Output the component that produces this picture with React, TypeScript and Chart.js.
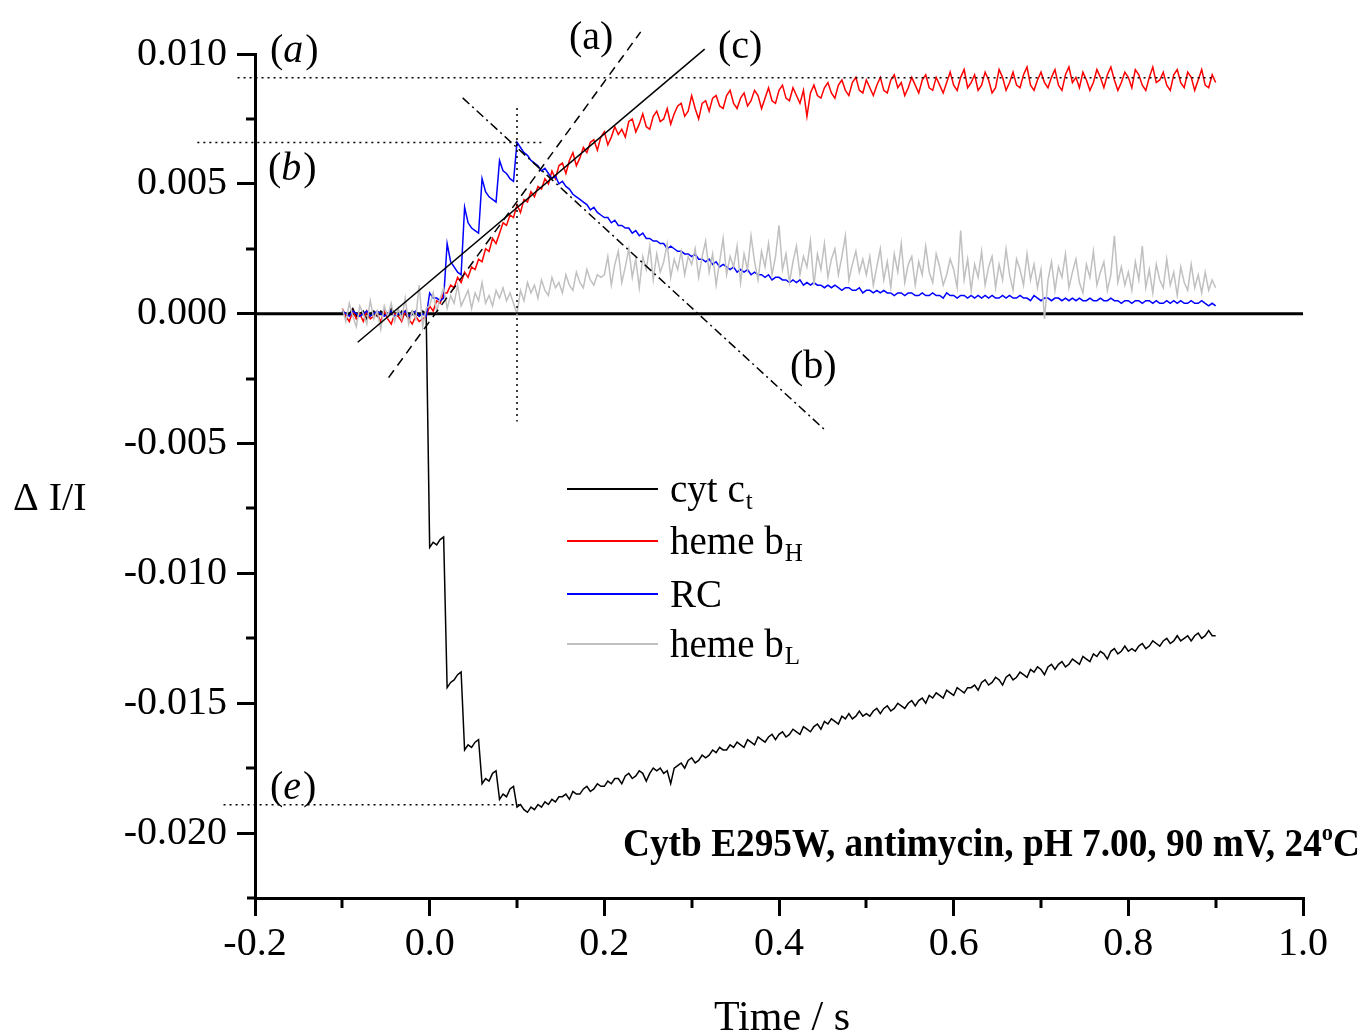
import React, { useEffect, useRef } from "react";
import { Chart, registerables } from "chart.js";

Chart.register(...registerables);

// ---- data (time grid: start + step, values in units of 1e-4 ΔI/I) ----
const T_START = -0.1;
const T_STEP = 0.004;
const Y_UNIT = 1e-4;

const cytCt = [
  1,-1,0,2,-1,0,1,-2,0,1,-1,1,0,-1,2,0,-1,1,0,-2,1,0,-1,1,0,
  -90,-88,-89,-87,-86,
  -144,-142,-141,-139,-138,
  -168,-166,-167,-165,-164,
  -181,-179,-180,-177,-176,
  -187,-185,-186,-183,-182,
  -190,-189,-191,-192,-190,-191,-189,-190,-188,-189,
  -187,-188,-186,-186,-185,-187,-184,-185,-185,-183,-182,-184,-183,-181,-182,
  -182,-180,-181,-179,-179,-181,-178,-177,-179,-178,-176,-177,-180,-177,-175,
  -176,-175,-177,-176,-181,-175,-174,-173,-175,-172,-171,-173,-172,-170,-171,
  -170,-168,-169,-167,-168,-168,-166,-167,-165,-166,-167,-164,-165,-166,-163,
  -164,-165,-163,-162,-164,-162,-161,-163,-162,-160,-161,-162,-159,-160,-161,
  -159,-158,-160,-157,-158,-156,-157,-158,-155,-156,-154,-156,-155,-153,-155,
  -154,-155,-153,-152,-154,-152,-151,-153,-152,-150,-151,-152,-150,-149,-151,
  -149,-148,-150,-147,-148,-146,-147,-148,-145,-146,-147,-144,-145,-146,-144,
  -144,-143,-145,-142,-141,-143,-142,-140,-141,-143,-140,-139,-141,-140,-138,
  -139,-140,-137,-138,-136,-137,-139,-136,-135,-137,-135,-134,-136,-135,-133,
  -134,-135,-132,-133,-134,-131,-132,-130,-131,-133,-130,-129,-131,-130,-128,
  -130,-129,-130,-128,-127,-129,-128,-126,-127,-128,-126,-125,-127,-126,-124,
  -126,-125,-124,-126,-124,-123,-125,-124,-122,-124,-124,
];

const hemeBH = [
  2,-1,-3,1,-2,0,-3,1,-2,-1,0,-3,1,-2,-4,0,-1,-3,1,-2,-4,-1,-3,-2,-1,
  3,1,5,4,8,
  8,11,10,14,12,
  16,14,18,17,21,
  20,25,24,29,27,
  31,35,34,38,37,
  42,39,44,43,47,
  45,49,48,52,50,
  55,52,57,58,54,
  59,62,57,60,64,
  62,66,67,63,68,
  70,65,68,72,69,
  71,68,74,75,70,
  73,77,72,71,76,
  78,74,75,79,73,
  77,80,81,76,78,
  84,79,75,81,82,
  78,83,84,80,79,
  84,86,81,79,83,
  85,80,82,86,84,
  79,83,87,82,81,
  86,88,83,82,87,
  84,81,86,76,85,
  88,84,83,87,89,
  85,83,88,90,86,
  84,89,91,86,85,
  90,87,84,88,91,
  86,85,90,92,87,
  89,84,87,91,88,
  85,90,92,87,86,
  91,88,85,89,93,
  88,86,91,94,87,
  89,92,86,88,93,
  90,85,87,94,91,
  86,89,93,88,87,
  92,95,88,86,90,
  93,89,87,91,94,
  88,86,92,95,89,
  91,87,93,90,86,
  89,94,91,87,92,
  95,90,86,89,93,
  91,87,94,92,88,
  86,91,95,89,90,
  93,88,86,92,94,
  89,87,93,91,86,
  90,94,88,87,92,
  89,
];

const rcTrace = [
  1,0,-1,1,0,-1,0,1,-1,0,1,0,-1,0,1,-1,0,0,1,-1,0,1,-1,0,-1,
  8,6,6,5,6,
  27,20,18,16,15,
  41,35,33,32,31,
  52,47,45,44,43,
  59,55,54,52,51,
  66,64,62,61,59,
  58,57,55,56,54,
  52,53,50,51,49,
  48,46,45,44,43,
  42,40,41,39,38,
  37,37,35,36,34,
  34,33,33,31,32,
  30,31,29,29,28,
  28,27,27,25,26,
  25,24,24,23,23,
  22,23,21,21,20,
  21,19,20,18,19,
  18,17,18,16,17,
  16,17,15,16,15,
  15,14,15,13,14,
  14,13,13,12,13,
  12,13,11,12,11,
  12,11,11,10,11,
  10,11,10,9,10,
  10,9,9,10,8,
  9,9,8,9,8,
  9,8,8,7,8,
  8,7,8,8,7,
  7,8,7,7,8,
  7,7,6,8,7,
  7,6,7,7,6,
  7,6,7,6,7,
  6,7,6,6,7,
  6,7,6,6,7,
  6,6,5,7,6,
  5,6,6,5,6,
  6,5,6,5,6,
  5,6,5,5,6,
  5,5,6,5,5,
  6,5,5,4,5,
  5,4,5,5,4,
  5,5,4,5,4,
  4,5,4,5,4,
  5,4,4,5,4,
  4,5,4,3,4,
  3,
];

const hemeBL = [
  2,-3,4,-1,-5,3,0,-4,5,-2,1,-6,3,-1,4,-3,2,-2,6,-4,1,-2,11,-5,2,
  3,8,1,6,10,2,7,4,11,3,6,9,2,8,5,12,4,7,3,9,6,10,5,8,4,
  0,
  9,5,12,8,11,6,13,9,7,14,10,12,8,15,11,9,16,12,10,17,13,11,15,14,
  15,22,11,19,24,12,18,25,14,21,10,22,17,26,13,23,16,20,27,14,21,17,24,15,22,
  19,25,14,22,28,16,23,11,20,29,15,22,18,26,12,23,17,30,20,13,24,18,27,15,22,
  34,17,23,12,20,26,15,22,18,28,11,23,17,27,14,21,25,15,22,30,13,19,24,16,21,
  15,22,11,18,25,13,20,10,23,16,27,12,19,22,11,20,15,26,16,12,23,18,11,15,21,
  17,10,32,13,21,9,19,14,24,11,18,22,10,19,13,25,15,9,21,17,11,23,13,19,10,
  17,-2,13,20,9,18,14,23,10,16,21,12,8,19,14,24,11,16,20,9,15,30,12,18,11,
  16,9,20,13,26,10,17,8,19,13,10,21,11,16,7,18,12,9,19,10,15,8,16,9,13,
  10,
];

// ---- axes ----
const xTickValues = [-0.2, 0, 0.2, 0.4, 0.6, 0.8, 1.0];
const xTickLabels = ["-0.2", "0.0", "0.2", "0.4", "0.6", "0.8", "1.0"];
const xMinorTicks = [-0.1, 0.1, 0.3, 0.5, 0.7, 0.9];
const yTickValues = [0.01, 0.005, 0, -0.005, -0.01, -0.015, -0.02];
const yTickLabels = ["0.010", "0.005", "0.000", "-0.005", "-0.010", "-0.015", "-0.020"];
const yMinorTicks = [0.0075, 0.0025, -0.0025, -0.0075, -0.0125, -0.0175];

// ---- legend ----
const seriesNames = ["cyt c", "heme b", "RC", "heme b"];
const seriesSubs = ["t", "H", "", "L"];
const seriesColors = ["#000000", "#ff0000", "#0000ff", "#c0c0c0"];

// ---- guide lines [x0, y0, x1, y1] in data units ----
const fitLineA = [-0.047, -0.00246, 0.2416, 0.01085];
const fitLineC = [-0.0824, -0.0011, 0.3149, 0.01019];
const fitLineB = [0.0378, 0.00831, 0.4546, -0.00454];
const markerT = [0.1, 0.00792, 0.1, -0.00415];
const levelA = [-0.22, 0.00909, 0.9, 0.00909];
const levelB = [-0.266, 0.00659, 0.129, 0.00659];
const levelE = [-0.236, -0.01891, 0.104, -0.01891];

const SERIF = "'Liberation Serif', 'Times New Roman', serif";

function toPoints(arr: number[]) {
  return arr.map((v, i) => ({ x: +(T_START + i * T_STEP).toFixed(4), y: v * Y_UNIT }));
}

function seg(ctx: any, xs: any, ys: any, s: number[], dash: number[], w: number) {
  ctx.save();
  ctx.setLineDash(dash);
  ctx.lineWidth = w;
  ctx.strokeStyle = "#000";
  ctx.beginPath();
  ctx.moveTo(xs.getPixelForValue(s[0]), ys.getPixelForValue(s[1]));
  ctx.lineTo(xs.getPixelForValue(s[2]), ys.getPixelForValue(s[3]));
  ctx.stroke();
  ctx.restore();
}

function parenLabel(ctx: any, letter: string, x: number, y: number, italic: boolean, size: number) {
  ctx.save();
  ctx.fillStyle = "#000";
  ctx.textBaseline = "alphabetic";
  ctx.textAlign = "left";
  const up = `${size}px ${SERIF}`;
  const it = `italic ${size}px ${SERIF}`;
  ctx.font = up;
  ctx.fillText("(", x, y);
  let cx = x + ctx.measureText("(").width;
  ctx.font = italic ? it : up;
  ctx.fillText(letter, cx, y);
  cx += ctx.measureText(letter).width + (italic ? 2 : 0);
  ctx.font = up;
  ctx.fillText(")", cx, y);
  ctx.restore();
}

const overlay = {
  id: "overlay",
  beforeDatasetsDraw(chart: any) {
    const { ctx, scales } = chart;
    const xs = scales.x, ys = scales.y;
    const y0 = ys.getPixelForValue(0);
    ctx.save();
    ctx.strokeStyle = "#000";
    ctx.lineWidth = 3;
    ctx.beginPath();
    ctx.moveTo(xs.left, y0);
    ctx.lineTo(xs.right, y0);
    ctx.stroke();
    ctx.restore();
  },
  afterDatasetsDraw(chart: any) {
    const { ctx, scales } = chart;
    const xs = scales.x, ys = scales.y;
    seg(ctx, xs, ys, fitLineA, [9, 6], 1.5);
    seg(ctx, xs, ys, fitLineC, [], 1.5);
    seg(ctx, xs, ys, fitLineB, [9, 4, 2, 4], 1.5);
    seg(ctx, xs, ys, markerT, [2, 4], 1.5);
    seg(ctx, xs, ys, levelA, [2, 4], 1.5);
    seg(ctx, xs, ys, levelB, [2, 4], 1.5);
    seg(ctx, xs, ys, levelE, [2, 4], 1.5);
  },
  afterDraw(chart: any) {
    const { ctx, scales } = chart;
    const xs = scales.x, ys = scales.y;
    ctx.save();
    ctx.strokeStyle = "#000";
    ctx.lineWidth = 3;
    for (const v of xMinorTicks) {
      const px = Math.round(xs.getPixelForValue(v));
      ctx.beginPath();
      ctx.moveTo(px, ys.bottom);
      ctx.lineTo(px, ys.bottom + 10);
      ctx.stroke();
    }
    for (const v of yMinorTicks) {
      const py = Math.round(ys.getPixelForValue(v));
      ctx.beginPath();
      ctx.moveTo(xs.left - 9, py);
      ctx.lineTo(xs.left, py);
      ctx.stroke();
    }
    ctx.beginPath();
    ctx.moveTo(xs.left - 8, ys.bottom);
    ctx.lineTo(xs.left, ys.bottom);
    ctx.stroke();
    ctx.restore();

    // axis titles
    ctx.save();
    ctx.fillStyle = "#000";
    ctx.font = `40px ${SERIF}`;
    ctx.textAlign = "left";
    ctx.textBaseline = "alphabetic";
    ctx.fillText("\u0394 I/I", 13, 510);
    ctx.font = `42px ${SERIF}`;
    ctx.textAlign = "center";
    ctx.fillText("Time / s", 782, 1030);
    ctx.restore();

    // panel labels
    parenLabel(ctx, "a", 270, 62, true, 40);
    parenLabel(ctx, "b", 268, 180, true, 40);
    parenLabel(ctx, "e", 270, 799, true, 40);
    parenLabel(ctx, "a", 569, 49, false, 40);
    parenLabel(ctx, "c", 718, 58, false, 40);
    parenLabel(ctx, "b", 790, 378, false, 40);

    // legend
    const legendY = [489, 541, 594, 644];
    ctx.save();
    for (let i = 0; i < seriesNames.length; i++) {
      ctx.strokeStyle = seriesColors[i];
      ctx.lineWidth = 2;
      ctx.beginPath();
      ctx.moveTo(567, legendY[i]);
      ctx.lineTo(658, legendY[i]);
      ctx.stroke();
      ctx.fillStyle = "#000";
      ctx.textAlign = "left";
      ctx.textBaseline = "alphabetic";
      ctx.font = `39px ${SERIF}`;
      const base = legendY[i] + 13;
      ctx.fillText(seriesNames[i], 670, base);
      if (seriesSubs[i]) {
        const w = ctx.measureText(seriesNames[i]).width;
        ctx.font = `25px ${SERIF}`;
        ctx.fillText(seriesSubs[i], 670 + w + 1, base + 7);
      }
    }
    ctx.restore();

    // condition text (bold), fitted to reference width
    ctx.save();
    ctx.fillStyle = "#000";
    ctx.textAlign = "left";
    ctx.textBaseline = "alphabetic";
    const mainTxt = "Cytb E295W, antimycin, pH 7.00, 90 mV, 24";
    ctx.font = `bold 40px ${SERIF}`;
    const w1 = ctx.measureText(mainTxt).width;
    const wC = ctx.measureText("C").width;
    ctx.font = `bold 24px ${SERIF}`;
    const wo = ctx.measureText("o").width;
    const sx = (1360 - 623) / (w1 + wo + wC);
    ctx.translate(623, 856);
    ctx.scale(sx, 1);
    ctx.font = `bold 40px ${SERIF}`;
    ctx.fillText(mainTxt, 0, 0);
    ctx.fillText("C", w1 + wo, 0);
    ctx.font = `bold 24px ${SERIF}`;
    ctx.fillText("o", w1, -16);
    ctx.restore();
  },
};

export default function App() {
  const ref = useRef<HTMLCanvasElement | null>(null);
  useEffect(() => {
    if (!ref.current) return;
    const mk = (data: number[], color: string, order: number, label: string) => ({
      label,
      data: toPoints(data),
      borderColor: color,
      backgroundColor: color,
      borderWidth: 1.5,
      pointRadius: 0,
      tension: 0,
      fill: false,
      order,
    });
    const chart = new Chart(ref.current, {
      type: "line",
      data: {
        datasets: [
          mk(cytCt, seriesColors[0], 3, "cyt ct"),
          mk(hemeBH, seriesColors[1], 2, "heme bH"),
          mk(rcTrace, seriesColors[2], 1, "RC"),
          mk(hemeBL, seriesColors[3], 0, "heme bL"),
        ] as any,
      },
      options: {
        responsive: false,
        maintainAspectRatio: false,
        devicePixelRatio: 1,
        animation: false,
        layout: { padding: { left: 0, right: 60, top: 54, bottom: 0 } },
        plugins: { legend: { display: false }, tooltip: { enabled: false }, title: { display: false } },
        scales: {
          x: {
            type: "linear",
            min: -0.2,
            max: 1.0,
            afterBuildTicks: (s: any) => {
              s.ticks = xTickValues.map((v) => ({ value: v }));
            },
            afterFit: (s: any) => {
              s.height = 1036 - 898;
            },
            ticks: {
              callback: (_v: any, i: number) => xTickLabels[i],
              font: { family: SERIF, size: 40 },
              color: "#000",
              padding: 4,
              maxRotation: 0,
              autoSkip: false,
            },
            grid: { display: true, drawOnChartArea: false, drawTicks: true, tickLength: 18, lineWidth: 3, color: "#000" },
            border: { display: true, color: "#000", width: 3 },
          },
          y: {
            type: "linear",
            min: -0.0225,
            max: 0.01,
            afterBuildTicks: (s: any) => {
              s.ticks = yTickValues.map((v) => ({ value: v }));
            },
            afterFit: (s: any) => {
              s.width = 255;
            },
            ticks: {
              callback: (_v: any, i: number) => yTickLabels[i],
              font: { family: SERIF, size: 40 },
              color: "#000",
              padding: 10,
              autoSkip: false,
            },
            grid: { display: true, drawOnChartArea: false, drawTicks: true, tickLength: 18, lineWidth: 3, color: "#000" },
            border: { display: true, color: "#000", width: 3 },
          },
        },
      } as any,
      plugins: [overlay],
    });
    return () => chart.destroy();
  }, []);
  return (
    <div style={{ position: "absolute", left: 0, top: 0, width: 1363, height: 1036, background: "#fff" }}>
      <canvas ref={ref} width={1363} height={1036} style={{ display: "block", width: 1363, height: 1036 }} />
    </div>
  );
}
